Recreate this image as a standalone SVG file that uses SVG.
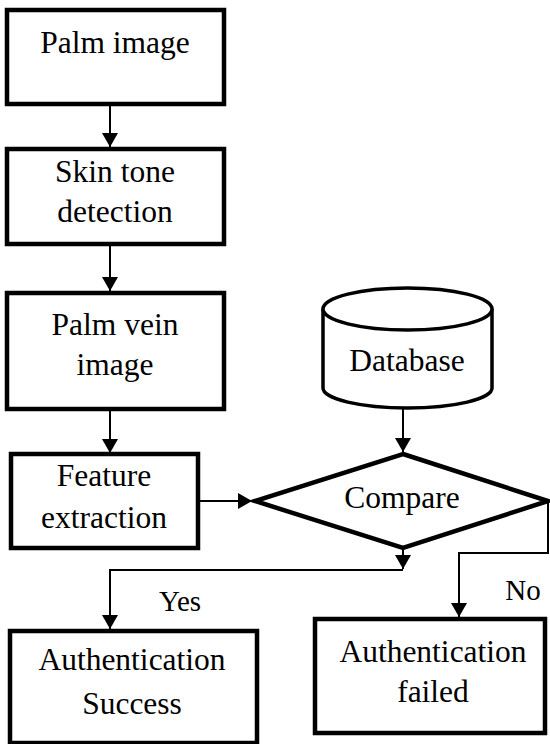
<svg xmlns="http://www.w3.org/2000/svg" width="550" height="744" viewBox="0 0 550 744">
<defs>
<marker id="ah" viewBox="0 0 14 16" refX="14" refY="8" markerWidth="14" markerHeight="16" markerUnits="userSpaceOnUse" orient="auto">
<path d="M0,0 L14,8 L0,16 Z" fill="#000"/>
</marker>
<style>
.box{fill:#fff;stroke:#000;stroke-width:4.5}
.db{fill:#fff;stroke:#000;stroke-width:3.5}
text{font-family:'Liberation Serif','Times New Roman','DejaVu Serif',serif;fill:#000;text-anchor:middle}
.t{font-size:31.5px}
.lbl{font-size:29px}
.c{fill:none;stroke:#000;stroke-width:2}
</style>
</defs>
<rect width="550" height="744" fill="#fff"/>
<g id="connectors">
<path class="c" d="M110,106 V147" marker-end="url(#ah)"/>
<path class="c" d="M110,246 V291" marker-end="url(#ah)"/>
<path class="c" d="M110,411 V453" marker-end="url(#ah)"/>
<path class="c" d="M198,501 H252" marker-end="url(#ah)"/>
<path class="c" d="M403,409 V452" marker-end="url(#ah)"/>
<path class="c" d="M403,549 V569" marker-end="url(#ah)"/>
<path class="c" d="M403,570 H110 V629" marker-end="url(#ah)"/>
<path class="c" d="M548,501 V553 H459 V617" marker-end="url(#ah)"/>
<text class="lbl" x="180" y="611" font-family="Liberation Serif, serif">Yes</text>
<text class="lbl" x="523" y="600" font-family="Liberation Serif, serif">No</text>
</g>
<g id="palm-image">
<rect class="box" x="7" y="10" width="217" height="94"/>
<text class="t" x="115" y="53">Palm image</text>
</g>
<g id="skin-tone">
<rect class="box" x="7" y="149" width="217" height="95"/>
<text class="t" x="115" y="182">Skin tone</text>
<text class="t" x="115" y="222">detection</text>
</g>
<g id="palm-vein">
<rect class="box" x="7" y="293" width="217" height="116"/>
<text class="t" x="115" y="335">Palm vein</text>
<text class="t" x="115" y="375">image</text>
</g>
<g id="feature">
<rect class="box" x="11" y="454" width="187" height="94"/>
<text class="t" x="104" y="486">Feature</text>
<text class="t" x="104" y="528">extraction</text>
</g>
<g id="database">
<path class="db" d="M323,309 V388 A84.5,20 0 0 0 492,388 V309"/>
<ellipse class="db" cx="407.5" cy="309" rx="84.5" ry="21"/>
<text class="t" x="407" y="371">Database</text>
</g>
<g id="compare">
<polygon class="box" points="403,454 548,501 403,548 255,501"/>
<text class="t" x="402" y="508">Compare</text>
</g>
<g id="auth-success">
<rect class="box" x="10" y="631" width="247" height="112"/>
<text class="t" x="132" y="670">Authentication</text>
<text class="t" x="132" y="714">Success</text>
</g>
<g id="auth-failed">
<rect class="box" x="315" y="619" width="230" height="114"/>
<text class="t" x="433" y="662">Authentication</text>
<text class="t" x="433" y="702">failed</text>
</g>
</svg>
